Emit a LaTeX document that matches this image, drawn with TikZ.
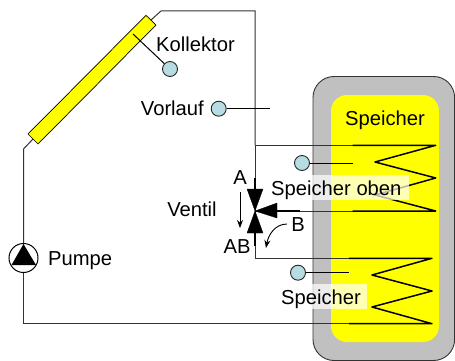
\documentclass[tikz,border=0pt]{standalone}
\usepackage{fontspec}
\setmainfont{Liberation Sans}
\usetikzlibrary{arrows.meta}
\definecolor{sensorblue}{RGB}{183,221,226}
\definecolor{tankgray}{RGB}{192,192,192}
\definecolor{pureyellow}{RGB}{255,255,0}
\tikzset{
  x=1pt,y=-1pt,
  lbl/.style={inner sep=0pt,font=\fontsize{20.2}{22}\selectfont,text=black},
  sensor/.style={circle,draw=black!85,fill=sensorblue,line width=0.9pt,minimum size=15pt,inner sep=0pt},
  pipe/.style={draw=black!80,line width=1pt},
  wire/.style={draw=black,line width=1pt},
  coil/.style={draw=black,line width=1.5pt,line join=round},
  valvetri/.style={fill=black,draw=black,line width=0.3pt},
  arrowline/.style={draw=black,line width=0.9pt,-{Stealth[length=8pt,width=6pt]}},
  halo/.style={fill=white,fill opacity=0.7,draw=none},
}
\begin{document}
\begin{tikzpicture}
\useasboundingbox (0,0) rectangle (455,361);
% tank
\draw[fill=tankgray,draw=black!80,line width=0.9pt,rounded corners=21pt] (313,76.5) rectangle (454.6,360.5);
\fill[pureyellow,rounded corners=16pt] (331,95) rectangle (439,342);
% fixed points
\coordinate (cTopEnd) at (151,20);
\coordinate (cBotEnd) at (33,139);
\coordinate (bendTop) at (161,11);
\coordinate (bendTR) at (255,11);
\coordinate (bendL) at (23.5,149);
\coordinate (bendBL) at (23.5,323.7);
\coordinate (valve) at (255,211);
\coordinate (coilAin) at (255,145.3);
\coordinate (coilAout) at (255,258.3);
\node[circle,minimum size=29pt,inner sep=0pt] (pump) at (23.5,258) {};
% pipes
\path[pipe] (cBotEnd) -- (bendL) -- (pump.north);
\path[pipe] (pump.south) -- (bendBL) -- (432,323.7);
\path[pipe] (cTopEnd) -- (bendTop) -- (bendTR) -- (coilAin);
\path[pipe] (coilAin) -- (435.7,145.3);
\path[pipe] (valve) -- (435.7,211);
\path[pipe] (valve) -- (coilAout) -- (432,258.3);
\path[pipe] (coilAin) -- (valve);
% collector
\draw[fill=pureyellow,draw=black,line width=0.7pt] (146,15.3) -- (156,25) -- (38,144) -- (28,134) -- cycle;
% coils
\path[coil] (352.7,145.3) -- (435.7,145.3) -- (375,162) -- (435.7,178) -- (375,195) -- (435.7,211) -- (352.7,211);
\path[coil] (349,258.3) -- (432,258.3) -- (372,275) -- (432,291) -- (372,307) -- (432,323.7) -- (349,323.7);
% pump
\draw[fill=white,draw=black,line width=1pt] (pump.center) circle (14.5);
\fill[black] (23.5,244) -- (36,265) -- (11.5,265) -- cycle;
% valve
\path[valvetri] (valve) -- (247,189) -- (263,189) -- cycle;
\path[valvetri] (valve) -- (247,233) -- (263,233) -- cycle;
\path[valvetri] (valve) -- (277,203) -- (277,218) -- cycle;
\draw[line width=1.5pt] (255,178) -- (255,189);
\draw[line width=1.5pt] (255,233) -- (255,246);
\draw[line width=1.3pt] (277,211) -- (300,211);
% sensors
\node[sensor] (sK) at (170,69) {};
\coordinate (sKend) at (133,34);
\path[wire] (sK) -- (sKend);
\node[sensor] (sV) at (218.7,108.7) {};
\coordinate (sVend) at (270,108.7);
\path[wire] (sV) -- (sVend);
\node[sensor] (sO) at (302,163) {};
\coordinate (sOend) at (352.7,163);
\path[wire] (sO) -- (sOend);
\node[sensor] (sS) at (298,272.7) {};
\coordinate (sSend) at (349,272.7);
\path[wire] (sS) -- (sSend);
% flow arrows
\coordinate (aT) at (240,192);
\coordinate (aB) at (240,228);
\path[arrowline] (aT) -- (aB);
\coordinate (bS) at (287,224);
\coordinate (bE) at (266,248);
\path[arrowline] (bS) to[out=180,in=80] (bE);
% labels
\fill[halo] (270,175) rectangle (409,200);
\fill[halo] (275,284) rectangle (367,309);
\node[lbl,anchor=base west] (tK) at (156,52) {Kollektor};
\node[lbl,anchor=base east] (tV) at (204,115) {Vorlauf};
\node[lbl,anchor=base] (tS) at (385,125) {Speicher};
\node[lbl,anchor=base west] (tSO) at (271,195) {Speicher oben};
\node[lbl,anchor=base west] (tSp) at (281,304) {Speicher};
\node[lbl,anchor=base] (tA) at (240,184) {A};
\node[lbl,anchor=base] (tAB) at (237,253) {AB};
\node[lbl,anchor=base] (tB) at (298,231) {B};
\node[lbl,anchor=base] (tVe) at (192,216) {Ventil};
\node[lbl,anchor=base west] (tP) at (48,265) {Pumpe};
\end{tikzpicture}
\end{document}
